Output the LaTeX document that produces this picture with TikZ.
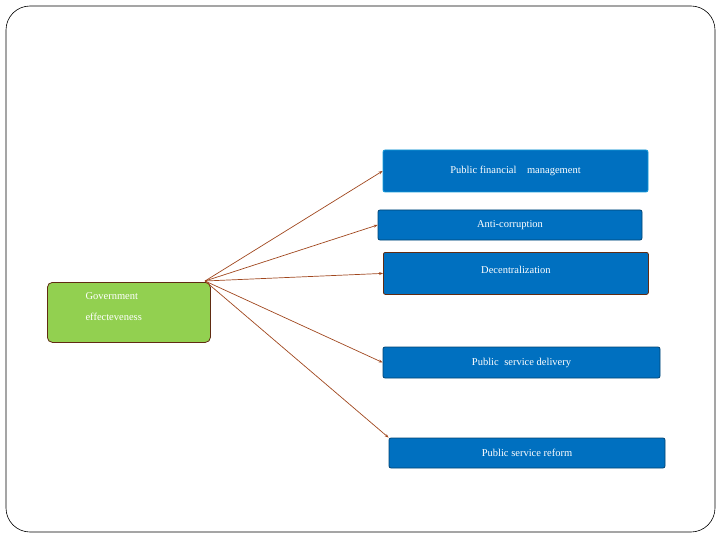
\documentclass[tikz,border=0pt]{standalone}
\usepackage{fontspec}
\setmainfont{Liberation Serif}
\usetikzlibrary{arrows.meta}
\definecolor{bx}{HTML}{0070C0}
\definecolor{gr}{HTML}{92D050}
\definecolor{ar}{HTML}{A0471E}
\begin{document}
\begin{tikzpicture}[x=1pt,y=-1pt,
 box/.style={draw=#1,line width=0.8pt,fill=bx,rounded corners=2pt,text=white,font=\fontsize{10.5}{12}\selectfont},
 conn/.style={draw=ar,line width=0.7pt,-{Stealth[length=4pt,width=3pt]}}]
\useasboundingbox (0,0) rectangle (720,540);
\draw[line width=0.6pt,rounded corners=24pt] (6,6) rectangle (715,532);
\node[box=cyan!70!bx,minimum width=265pt,minimum height=42pt] (pfm) at (515.5,171) {Public financial\quad management};
\node[box=bx!60!black,minimum width=264pt,minimum height=30pt] (ac) at (510,225) {Anti-corruption};
\node[box=ar!60!black,minimum width=265pt,minimum height=42pt,anchor=north west,align=center] (dc) at (383,252) {\\[-14pt]Decentralization};
\node[box=bx!60!black,minimum width=277pt,minimum height=31pt] (psd) at (521.5,362.5) {Public\; service delivery};
\node[box=bx!60!black,minimum width=276pt,minimum height=30pt] (psr) at (527,453) {Public service reform};
\node[draw=ar!60!black,line width=0.8pt,fill=gr,rounded corners=5pt,minimum width=163pt,minimum height=60pt,anchor=north west,text=white,font=\fontsize{10.5}{12}\selectfont] (ge) at (47,282) {};
\node[anchor=north west,align=left,text=white,font=\fontsize{10.5}{21}\selectfont] at (82,289) {Government\\effecteveness};
\coordinate (o) at (205,281);
\draw[conn] (o) -- (pfm.west);
\draw[conn] (o) -- (ac.west);
\draw[conn] (o) -- (dc.west);
\draw[conn] (o) -- (psd.west);
\draw[conn] (o) -- (psr.north west);
\end{tikzpicture}
\end{document}
